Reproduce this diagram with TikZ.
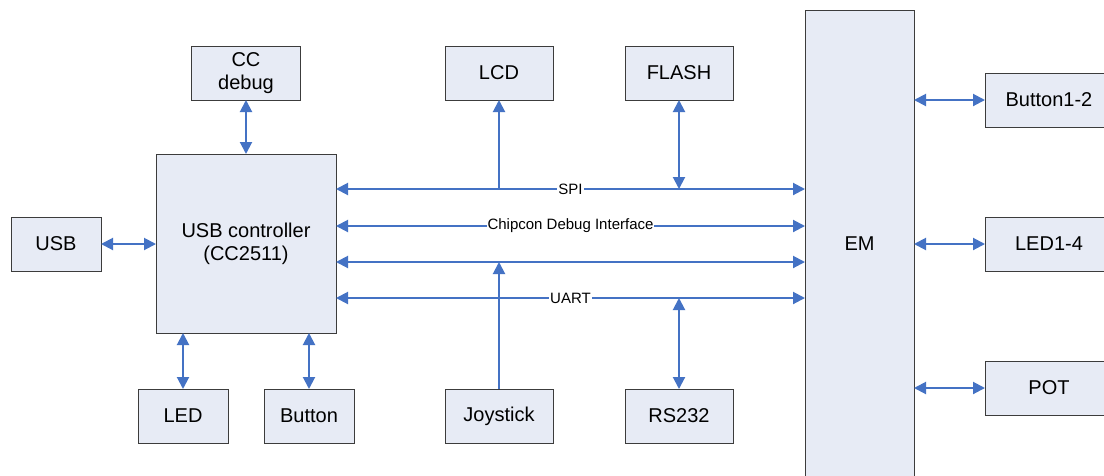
\documentclass[tikz,border=0pt]{standalone}
\usepackage{fontspec}
\setmainfont{Liberation Sans}
\usetikzlibrary{arrows.meta}
\definecolor{boxfill}{RGB}{231,235,245}
\definecolor{boxline}{RGB}{60,60,60}
\definecolor{linkblue}{RGB}{68,114,196}
\begin{document}
\begin{tikzpicture}[x=1pt,y=-1pt,
  blk/.style={draw=boxline,line width=1pt,fill=boxfill,inner sep=0pt,outer sep=0pt,
    align=center,font=\fontsize{20}{23}\selectfont},
  tip/.style={},
  link/.style={draw=linkblue,line width=2pt,
    arrows={-Triangle[length=12pt,width=12pt,fill=linkblue]}},
  both/.style={link,arrows={Triangle[length=12pt,width=12pt,fill=linkblue]-Triangle[length=12pt,width=12pt,fill=linkblue]}},
  buslbl/.style={fill=white,inner sep=1pt,font=\fontsize{15}{17}\selectfont}]
\useasboundingbox (0,0) rectangle (1104,475);
\clip (0,0) rectangle (1104,475);
\fill[white] (0,0) rectangle (1104,475);
% boxes
\node[blk,minimum width=109pt,minimum height=54pt] (ccdebug) at (246,73) {CC\\debug};
\node[blk,minimum width=108pt,minimum height=54pt] (lcd) at (499,73) {LCD};
\node[blk,minimum width=108pt,minimum height=54pt] (flash) at (679,73) {FLASH};
\node[blk,minimum width=180pt,minimum height=179pt] (ctrl) at (246,243.5) {USB controller\\(CC2511)};
\node[blk,minimum width=90pt,minimum height=54pt] (usb) at (56,244) {USB};
\node[blk,minimum width=90pt,minimum height=54pt] (led) at (183,416) {LED};
\node[blk,minimum width=90pt,minimum height=54pt] (button) at (309,416) {Button};
\node[blk,minimum width=108pt,minimum height=54pt] (joystick) at (499,416) {Joystick};
\node[blk,minimum width=108pt,minimum height=54pt] (rs232) at (679,416) {RS232};
\node[blk,minimum width=109pt,minimum height=468pt] (em) at (859.5,244) {EM};
\node[blk,minimum width=128pt,minimum height=54pt] (btn12) at (1049,100) {Button1-2};
\node[blk,minimum width=128pt,minimum height=54pt] (led14) at (1049,244) {LED1-4};
\node[blk,minimum width=128pt,minimum height=54pt] (pot) at (1049,388) {POT};
% bus coordinates
\coordinate (spi) at (336,189);
\coordinate (dbg) at (336,226);
\coordinate (bus3) at (336,262);
\coordinate (uart) at (336,298);
% buses
\draw[both] (ctrl.east |- spi) -- node[buslbl,pos=0.5]{SPI} (em.west |- spi);
\draw[both] (ctrl.east |- dbg) -- node[buslbl,pos=0.5]{Chipcon Debug Interface} (em.west |- dbg);
\draw[both] (ctrl.east |- bus3) -- (em.west |- bus3);
\draw[both] (ctrl.east |- uart) -- node[buslbl,pos=0.5]{UART} (em.west |- uart);
% peripherals on buses
\draw[link] (lcd.south |- spi) -- (lcd.south);
\draw[both] (flash.south) -- (flash.south |- spi);
\draw[link] (joystick.north) -- (joystick.north |- bus3);
\draw[both] (rs232.north) -- (rs232.north |- uart);
% controller links
\draw[both] (ccdebug.south) -- (ccdebug.south |- ctrl.north);
\draw[both] (usb.east) -- (ctrl.west |- usb.east);
\draw[both] (led.north) -- (led.north |- ctrl.south);
\draw[both] (button.north) -- (button.north |- ctrl.south);
% EM links
\draw[both] (em.east |- btn12.west) -- (btn12.west);
\draw[both] (em.east |- led14.west) -- (led14.west);
\draw[both] (em.east |- pot.west) -- (pot.west);
\end{tikzpicture}
\end{document}
